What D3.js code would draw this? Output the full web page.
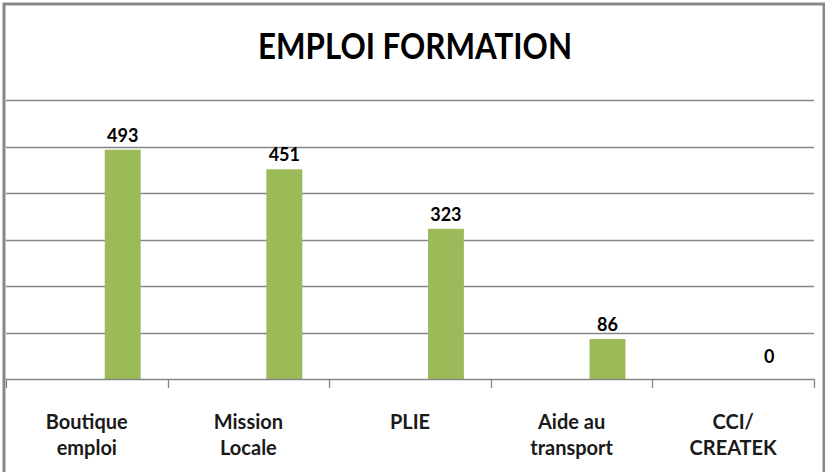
<!DOCTYPE html>
<html>
<head>
<meta charset="utf-8">
<script src="https://cdn.jsdelivr.net/npm/d3@7"></script>
<style>
  body { margin: 0; background: #fff; }
  svg { display: block; font-family: Lato, "Noto Sans", sans-serif; }
</style>
</head>
<body>
<div id="chart"></div>
<script>
// data
var categories = [["Boutique", "emploi"], ["Mission", "Locale"], ["PLIE"], ["Aide au", "transport"], ["CCI/", "CREATEK"]];
var values = [493, 451, 323, 86, 0];
var yTicks = [0, 100, 200, 300, 400, 500, 600];
// excel left two empty series slots before ours
var slots = ["s1", "s2", "s3"];

var width = 825, height = 472;
var plot = {left: 6, right: 814, top: 100, bottom: 379};

var svg = d3.select("#chart").append("svg")
    .attr("width", width)
    .attr("height", height);

svg.append("rect")
    .attr("x", 4).attr("y", 4)
    .attr("width", 820).attr("height", 480)
    .attr("fill", "#fff")
    .attr("stroke", "#878787")
    .attr("stroke-width", 3);

var x = d3.scaleBand()
    .domain(d3.range(categories.length))
    .range([plot.left, plot.right]);

var xSlot = d3.scaleBand()
    .domain(slots)
    .range([0, x.bandwidth()])
    .paddingOuter(0.75);

var y = d3.scaleLinear()
    .domain([0, 600])
    .range([plot.bottom, plot.top]);

// gridlines
svg.append("g")
    .selectAll("line")
    .data(yTicks.slice(1))
    .enter().append("line")
    .attr("x1", plot.left).attr("x2", plot.right)
    .attr("y1", d => Math.round(y(d)) + 0.5)
    .attr("y2", d => Math.round(y(d)) + 0.5)
    .attr("stroke", "#868686")
    .attr("stroke-width", 1.3);

// bars
svg.append("g")
    .selectAll("rect")
    .data(values)
    .enter().append("rect")
    .attr("x", (d, i) => x(i) + xSlot("s3"))
    .attr("width", xSlot.bandwidth())
    .attr("y", d => y(d))
    .attr("height", d => y(0) - y(d))
    .attr("fill", "#9bbb59");

// value labels (zero label sits a bit higher like excel does)
svg.append("g")
    .selectAll("text")
    .data(values)
    .enter().append("text")
    .attr("x", (d, i) => x(i) + xSlot("s3") + xSlot.bandwidth() / 2)
    .attr("y", d => Math.min(y(d) - 8, y(0) - 16))
    .attr("text-anchor", "middle")
    .attr("font-size", 18)
    .attr("font-weight", "bold")
    .attr("fill", "#000")
    .text(d => d);

// category axis
var axis = svg.append("g");
axis.append("line")
    .attr("x1", plot.left).attr("x2", plot.right)
    .attr("y1", y(0) + 0.5).attr("y2", y(0) + 0.5)
    .attr("stroke", "#868686")
    .attr("stroke-width", 1.3);

var bounds = d3.range(categories.length).map(i => x(i)).concat([plot.right]);
axis.selectAll(".tick")
    .data(bounds)
    .enter().append("line")
    .attr("class", "tick")
    .attr("x1", d => Math.round(d) + 0.5).attr("x2", d => Math.round(d) + 0.5)
    .attr("y1", y(0)).attr("y2", y(0) + 9)
    .attr("stroke", "#868686")
    .attr("stroke-width", 1.3);

var labels = axis.selectAll(".cat")
    .data(categories)
    .enter().append("text")
    .attr("class", "cat")
    .attr("text-anchor", "middle")
    .attr("font-size", 20)
    .attr("font-weight", "bold")
    .attr("fill", "#1a1a1a");

labels.selectAll("tspan")
    .data((d, i) => d.map(t => ({t: t, i: i})))
    .enter().append("tspan")
    .attr("x", d => x(d.i) + x.bandwidth() / 2)
    .attr("y", (d, j) => 429 + j * 26)
    .text(d => d.t);

// title
svg.append("text")
    .attr("x", 415)
    .attr("y", 59)
    .attr("text-anchor", "middle")
    .attr("font-size", 36)
    .attr("font-weight", "bold")
    .attr("textLength", 314)
    .attr("lengthAdjust", "spacingAndGlyphs")
    .text("EMPLOI FORMATION");
</script>
</body>
</html>
